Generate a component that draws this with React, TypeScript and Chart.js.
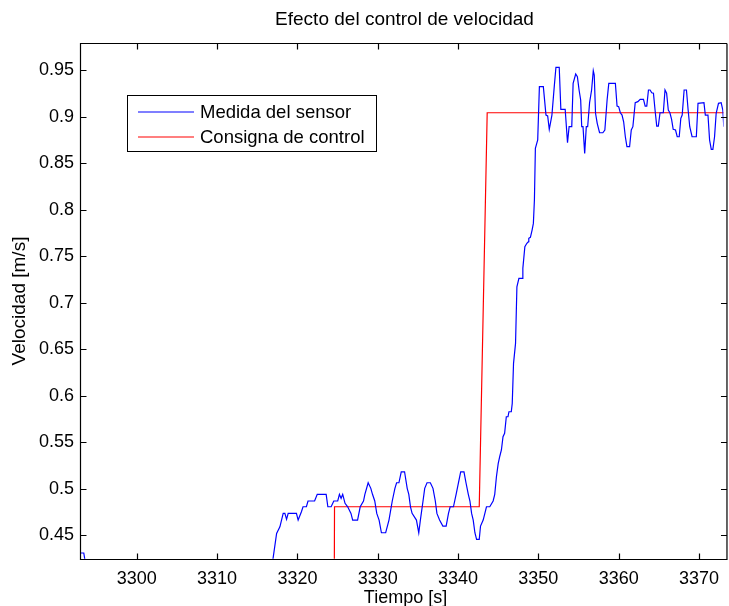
import React, { useEffect, useRef } from "react";
import { Chart, registerables } from "chart.js";

Chart.register(...registerables);

// Sensor reading (blue): time [s] and measured speed [m/s]
const TIME_SENSOR = [
  3292.9, 3293.4, 3293.7, 3316.8, 3317.41, 3317.82, 3318.23, 3318.44, 3318.65, 3318.85,
  3319.88, 3320.09, 3320.5, 3320.7, 3321.12, 3321.32, 3322.14, 3322.47, 3323.58, 3323.79,
  3324.2, 3324.53, 3325.02, 3325.23, 3325.44, 3325.64, 3325.93, 3326.26, 3326.67, 3326.88,
  3327.49, 3327.82, 3328.23, 3328.4, 3328.81, 3329.14, 3329.35, 3329.63, 3329.88, 3330.17,
  3330.46, 3330.99, 3331.4, 3331.81, 3332.14, 3332.35, 3332.64, 3332.93, 3333.34, 3333.67,
  3333.87, 3334.08, 3334.28, 3334.82, 3335.11, 3335.31, 3335.64, 3335.85, 3336.14, 3336.55,
  3336.88, 3337.17, 3337.37, 3337.7, 3338.11, 3338.52, 3338.81, 3339.02, 3339.43, 3339.76,
  3340.05, 3340.33, 3340.74, 3340.99, 3341.28, 3341.48, 3341.69, 3341.89, 3342.1, 3342.31,
  3342.64, 3342.8, 3343.13, 3343.34, 3343.54, 3343.95, 3344.37, 3344.57, 3344.78, 3345.0,
  3345.2, 3345.4, 3345.6, 3345.8, 3346.01, 3346.22, 3346.34, 3346.63, 3346.75, 3346.91,
  3347.16, 3347.33, 3347.58, 3347.99, 3348.07, 3348.32, 3348.57, 3348.77, 3348.81, 3349.01,
  3349.22, 3349.38, 3349.51, 3349.63, 3349.92, 3350.13, 3350.62, 3350.95, 3351.16, 3351.36,
  3351.69, 3351.98, 3352.19, 3352.6, 3352.8, 3353.34, 3353.63, 3353.83, 3354.16, 3354.33,
  3354.65, 3354.86, 3355.07, 3355.27, 3355.4, 3355.56, 3355.77, 3355.97, 3356.14, 3356.38,
  3356.63, 3356.84, 3356.96, 3357.12, 3357.33, 3357.62, 3358.03, 3358.28, 3358.56, 3358.77,
  3359.59, 3359.8, 3360.0, 3360.21, 3360.42, 3360.62, 3360.83, 3361.03, 3361.36, 3361.57,
  3361.77, 3362.06, 3362.39, 3362.68, 3363.09, 3363.3, 3363.5, 3363.71, 3363.91, 3364.12,
  3364.33, 3364.53, 3364.74, 3364.94, 3365.15, 3365.56, 3365.77, 3365.97, 3366.18, 3366.38,
  3366.59, 3366.79, 3367.08, 3367.29, 3367.54, 3367.74, 3367.91, 3368.15, 3368.44, 3368.65,
  3368.85, 3369.14, 3369.67, 3369.88, 3370.62, 3370.79, 3371.12, 3371.32, 3371.53, 3371.73,
  3371.94, 3372.14, 3372.43, 3372.76, 3372.97, 3373.09, 3373.4,
];
const VEL_SENSOR = [
  0.431, 0.431, 0.415, 0.415, 0.4521, 0.4592, 0.4736, 0.4736, 0.4672, 0.4736,
  0.4736, 0.4664, 0.4754, 0.4807, 0.4807, 0.4869, 0.4869, 0.4941, 0.4941, 0.4807,
  0.4807, 0.4869, 0.4869, 0.4941, 0.4898, 0.4941, 0.4844, 0.4807, 0.4736, 0.4664,
  0.4664, 0.4807, 0.4869, 0.4941, 0.5065, 0.5005, 0.4941, 0.4869, 0.4736, 0.4664,
  0.4528, 0.4528, 0.4664, 0.4869, 0.5005, 0.5065, 0.5065, 0.5183, 0.5183, 0.5005,
  0.4941, 0.4807, 0.4736, 0.4664, 0.4528, 0.4664, 0.4869, 0.5005, 0.5065, 0.5065,
  0.5005, 0.4869, 0.4736, 0.4664, 0.46, 0.46, 0.4736, 0.4807, 0.4807, 0.4941,
  0.5065, 0.5183, 0.5183, 0.5065, 0.4941, 0.4869, 0.4736, 0.4664, 0.4528, 0.4457,
  0.4457, 0.46, 0.4664, 0.4736, 0.4807, 0.4807, 0.4869, 0.4941, 0.513, 0.527,
  0.535, 0.5417, 0.556, 0.5596, 0.5774, 0.5774, 0.5828, 0.5828, 0.5918, 0.6348,
  0.6563, 0.7171, 0.7262, 0.7262, 0.7369, 0.7601, 0.7638, 0.7655, 0.7691, 0.7702,
  0.778, 0.7852, 0.8103, 0.8659, 0.8748, 0.9321, 0.9321, 0.9016, 0.9006, 0.8862,
  0.9016, 0.9321, 0.9529, 0.9529, 0.9078, 0.9078, 0.8719, 0.8891, 0.8891, 0.9357,
  0.9457, 0.9428, 0.9285, 0.9178, 0.8891, 0.8891, 0.8604, 0.8891, 0.8891, 0.9149,
  0.9285, 0.9493, 0.9446, 0.9035, 0.8927, 0.8826, 0.8826, 0.8855, 0.9178, 0.9357,
  0.9357, 0.9113, 0.9106, 0.9041, 0.9016, 0.8944, 0.8783, 0.8676, 0.8676, 0.8855,
  0.8891, 0.9149, 0.916, 0.9185, 0.9185, 0.9113, 0.9113, 0.9285, 0.9285, 0.9256,
  0.925, 0.907, 0.8898, 0.8898, 0.9041, 0.9041, 0.9285, 0.925, 0.907, 0.9041,
  0.897, 0.8862, 0.8855, 0.8783, 0.8783, 0.8981, 0.9016, 0.9285, 0.9285, 0.907,
  0.8891, 0.8783, 0.8783, 0.9142, 0.9149, 0.9016, 0.9016, 0.8748, 0.8648, 0.8648,
  0.8783, 0.9035, 0.9142, 0.9149, 0.907, 0.8891, 0.885,
];

// Speed setpoint (red)
const TIME_SETPOINT = [3292, 3324.45, 3324.62, 3342.64, 3343.63, 3374];
const VEL_SETPOINT = [0, 0, 0.4807, 0.4807, 0.9041, 0.9041];

const X_MIN = 3292.93;
const X_MAX = 3373.05;
const Y_MIN = 0.4249;
const Y_MAX = 0.9787;

const X_TICKS = [3300, 3310, 3320, 3330, 3340, 3350, 3360, 3370];
const X_TICK_LABELS = ["3300", "3310", "3320", "3330", "3340", "3350", "3360", "3370"];
const Y_TICKS = [0.45, 0.5, 0.55, 0.6, 0.65, 0.7, 0.75, 0.8, 0.85, 0.9, 0.95];
const Y_TICK_LABELS = ["0.45", "0.5", "0.55", "0.6", "0.65", "0.7", "0.75", "0.8", "0.85", "0.9", "0.95"];

const TITLE = "Efecto del control de velocidad";
const X_LABEL = "Tiempo [s]";
const Y_LABEL = "Velocidad [m/s]";
const SERIES_NAMES = ["Medida del sensor", "Consigna de control"];
const SERIES_COLORS = ["#0000ff", "#ff0000"];

const FAMILY = "'Liberation Sans', Arial, Helvetica, sans-serif";

// Boxed axes with inward ticks, titles and the legend box
const decorations = {
  id: "decorations",
  afterDatasetsDraw(chart: any) {
    const { ctx, chartArea: a, scales } = chart;
    const xs = scales.x;
    const ys = scales.y;
    const L = Math.round(a.left) + 0.5;
    const T = Math.round(a.top) + 0.5;
    const B = Math.round(a.bottom) + 0.5;
    const R = a.right + 3.5;
    const tick = 6;

    ctx.save();
    ctx.strokeStyle = "#000";
    ctx.lineWidth = 1.2;
    ctx.beginPath();
    ctx.moveTo(R, T);
    ctx.lineTo(L, T);
    ctx.lineTo(L, B);
    ctx.lineTo(R, B);
    ctx.lineTo(R, T);
    for (const v of X_TICKS) {
      const px = Math.round(xs.getPixelForValue(v)) + 0.5;
      ctx.moveTo(px, B);
      ctx.lineTo(px, B - tick);
      ctx.moveTo(px, T);
      ctx.lineTo(px, T + tick);
    }
    for (const v of Y_TICKS) {
      const py = Math.round(ys.getPixelForValue(v)) + 0.5;
      ctx.moveTo(L, py);
      ctx.lineTo(L + tick, py);
      ctx.moveTo(R, py);
      ctx.lineTo(R - tick, py);
    }
    ctx.stroke();

    // Title and axis titles
    ctx.fillStyle = "#000";
    ctx.textAlign = "center";
    ctx.textBaseline = "alphabetic";
    ctx.font = `19px ${FAMILY}`;
    ctx.fillText(TITLE, (a.left + R) / 2 + 1, 25);
    ctx.font = `18px ${FAMILY}`;
    ctx.fillText(X_LABEL, (a.left + R) / 2 + 2, 603);
    ctx.save();
    ctx.translate(25, (a.top + a.bottom) / 2);
    ctx.rotate(-Math.PI / 2);
    ctx.font = `19px ${FAMILY}`;
    ctx.fillText(Y_LABEL, 0, 0);
    ctx.restore();

    // Legend
    const lx = 127.5;
    const ly = 95.5;
    const lw = 249;
    const lh = 56;
    ctx.fillStyle = "#fff";
    ctx.fillRect(lx, ly, lw, lh);
    ctx.strokeStyle = "#000";
    ctx.lineWidth = 1;
    ctx.strokeRect(lx, ly, lw, lh);
    const rows = [112, 137];
    ctx.font = `18.5px ${FAMILY}`;
    ctx.textAlign = "left";
    ctx.textBaseline = "alphabetic";
    SERIES_NAMES.forEach((name, i) => {
      ctx.strokeStyle = SERIES_COLORS[i];
      ctx.lineWidth = 1.2;
      ctx.beginPath();
      ctx.moveTo(138, rows[i]);
      ctx.lineTo(194, rows[i]);
      ctx.stroke();
      ctx.fillStyle = "#000";
      ctx.fillText(name, 200, rows[i] + 6);
    });
    ctx.restore();
  },
};

export default function App() {
  const canvasRef = useRef<HTMLCanvasElement | null>(null);

  useEffect(() => {
    const canvas = canvasRef.current;
    if (!canvas) return;

    const sensor = TIME_SENSOR.map((t, i) => ({ x: t, y: VEL_SENSOR[i] }));
    const setpoint = TIME_SETPOINT.map((t, i) => ({ x: t, y: VEL_SETPOINT[i] }));
    const tickFont = { family: FAMILY, size: 18 };

    const chart = new Chart(canvas, {
      type: "line",
      data: {
        datasets: [
          {
            label: SERIES_NAMES[0],
            data: sensor,
            borderColor: SERIES_COLORS[0],
            borderWidth: 1.2,
            pointRadius: 0,
            tension: 0,
            fill: false,
          },
          {
            label: SERIES_NAMES[1],
            data: setpoint,
            borderColor: SERIES_COLORS[1],
            borderWidth: 1.2,
            pointRadius: 0,
            tension: 0,
            fill: false,
          },
        ],
      },
      options: {
        responsive: false,
        animation: false,
        devicePixelRatio: 1,
        events: [],
        layout: { padding: { top: 43.3, left: 0, right: 0, bottom: 0 } },
        plugins: {
          legend: { display: false },
          title: { display: false },
          tooltip: { enabled: false },
        },
        scales: {
          x: {
            type: "linear",
            min: X_MIN,
            max: X_MAX,
            grid: { display: false, drawTicks: false },
            border: { display: false },
            afterBuildTicks: (s: any) => {
              s.ticks = X_TICKS.map((v) => ({ value: v }));
            },
            afterFit: (s: any) => {
              s.height = 47.3;
            },
            ticks: {
              autoSkip: false,
              maxRotation: 0,
              color: "#000",
              font: tickFont,
              padding: 10,
              callback: (_v: any, i: number) => X_TICK_LABELS[i],
            },
          },
          y: {
            type: "linear",
            min: Y_MIN,
            max: Y_MAX,
            grid: { display: false, drawTicks: false },
            border: { display: false },
            afterBuildTicks: (s: any) => {
              s.ticks = Y_TICKS.map((v) => ({ value: v }));
            },
            afterFit: (s: any) => {
              s.width = 80;
            },
            ticks: {
              autoSkip: false,
              color: "#000",
              font: tickFont,
              padding: 6,
              callback: (_v: any, i: number) => Y_TICK_LABELS[i],
            },
          },
        },
      },
      plugins: [decorations],
    });

    return () => chart.destroy();
  }, []);

  return (
    <div
      style={{
        position: "absolute",
        left: 0,
        top: 0,
        width: 729,
        height: 606,
        overflow: "hidden",
        background: "#fff",
      }}
    >
      <canvas ref={canvasRef} width={729} height={606} style={{ display: "block" }} />
    </div>
  );
}
